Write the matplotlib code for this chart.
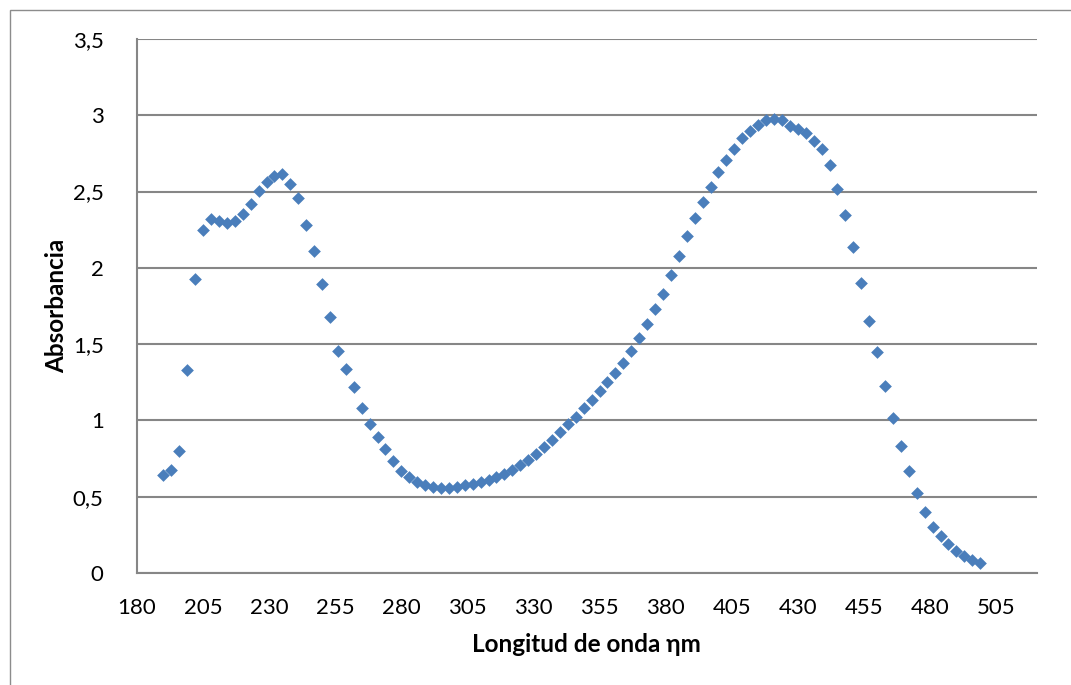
import matplotlib
matplotlib.use("Agg")
import matplotlib.pyplot as plt
from matplotlib.patches import Rectangle

# Data
wavelength = list(range(190, 500, 3))
absorbance = [
    0.640, 0.677, 0.800, 1.328, 1.925, 2.246, 2.320, 2.307, 2.294, 2.309,
    2.355, 2.416, 2.502, 2.561, 2.605, 2.612, 2.550, 2.456, 2.278, 2.108,
    1.894, 1.680,
    1.457, 1.335, 1.217, 1.084, 0.979, 0.891, 0.812, 0.733, 0.671, 0.627,
    0.599, 0.579, 0.566, 0.560, 0.560, 0.565, 0.575, 0.583, 0.594, 0.608,
    0.626,
    0.651, 0.677, 0.706, 0.739, 0.782, 0.826, 0.874, 0.924, 0.975, 1.022,
    1.079, 1.132,
    1.193, 1.250, 1.309, 1.374, 1.455, 1.542, 1.634, 1.730, 1.829, 1.955,
    2.078, 2.207, 2.327, 2.434, 2.532, 2.626, 2.709, 2.781, 2.851, 2.899,
    2.938, 2.969, 2.978,
    2.969, 2.932, 2.910, 2.884, 2.834, 2.777, 2.672, 2.519, 2.345, 2.134,
    1.899, 1.650, 1.449, 1.226, 1.018, 0.832, 0.669, 0.522, 0.402, 0.299,
    0.243, 0.188, 0.144, 0.114, 0.085, 0.068,
]
x_ticks = [180, 205, 230, 255, 280, 305, 330, 355, 380, 405, 430, 455, 480, 505]
y_ticks = [0, 0.5, 1, 1.5, 2, 2.5, 3, 3.5]
y_tick_labels = ["0", "0,5", "1", "1,5", "2", "2,5", "3", "3,5"]

plt.rcParams['font.family'] = ['Lato', 'DejaVu Sans']

W, H = 1071, 685
fig = plt.figure(figsize=(W / 100, H / 100), dpi=100)
fig.patches.append(Rectangle((9.5 / W, -0.1), 1.2, 1 - 9.5 / H + 0.1,
                             transform=fig.transFigure, fill=False,
                             edgecolor="#8c8c8c", linewidth=1.0))

ax = fig.add_axes([137 / W, 1 - 573 / H, (1037 - 137) / W, (573 - 39) / H])
ax.scatter(wavelength, absorbance, marker="D", s=42, color="#4a7ebb",
           linewidths=0, zorder=3)

ax.set_xlim(180, 520.5)
ax.set_ylim(0, 3.5)
ax.set_xticks(x_ticks)
ax.set_xticklabels([str(t) for t in x_ticks])
ax.set_yticks(y_ticks)
ax.set_yticklabels(y_tick_labels)
ax.tick_params(length=0, labelsize=16, colors="black")
ax.tick_params(axis="x", pad=25)
ax.tick_params(axis="y", pad=24)
for lbl in ax.get_xticklabels():
    lbl.set_va("center")

ax.grid(axis="y", color="#868686", linewidth=1.5)
ax.set_axisbelow(True)
for s in ["top", "right"]:
    ax.spines[s].set_visible(False)
for s in ["left", "bottom"]:
    ax.spines[s].set_color("#868686")
    ax.spines[s].set_linewidth(1.5)

ax.set_xlabel("Longitud de onda ηm", fontsize=17.5, fontweight="bold", va="center")
ax.set_ylabel("Absorbancia", fontsize=17.5, fontweight="bold", va="center")
ax.xaxis.set_label_coords(0.5 + (586 - 587) / 900, (573 - 645) / 534)
ax.yaxis.set_label_coords((57 - 137) / 900, (573 - 306) / 534)

fig.savefig("out.png", dpi=100)
